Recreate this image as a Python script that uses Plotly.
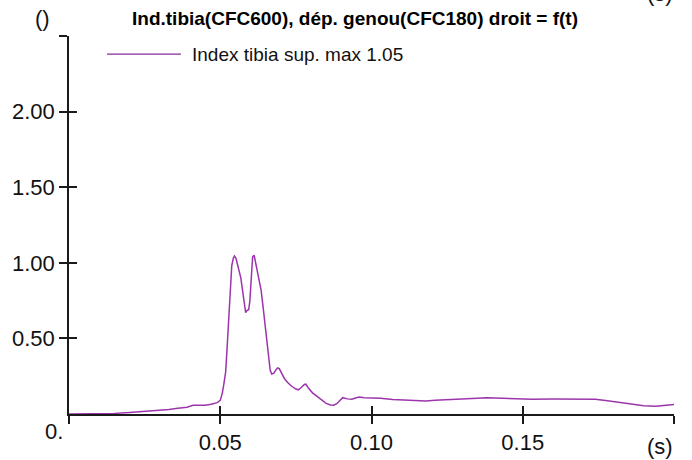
import plotly.graph_objects as go

# ---- data ----
t = [0.000, 0.010, 0.015, 0.020, 0.025, 0.030, 0.033, 0.036, 0.039, 0.041,
     0.043, 0.045, 0.047, 0.049, 0.050, 0.0507, 0.0512, 0.0518, 0.0523, 0.0528,
     0.0533, 0.0538, 0.0543, 0.0547, 0.0552, 0.0557, 0.0563, 0.0568, 0.0575, 0.0580,
     0.0584, 0.0589, 0.0594, 0.0598, 0.0602, 0.0607, 0.0612, 0.0617, 0.0622, 0.0628,
     0.0635, 0.0642, 0.0650, 0.0658, 0.0665, 0.0670, 0.0677, 0.0685, 0.0690, 0.0695,
     0.0702, 0.0712, 0.0722, 0.0735, 0.0750, 0.0758, 0.0768, 0.0778, 0.0783, 0.0792,
     0.0805, 0.0820, 0.0835, 0.0850, 0.0865, 0.0875, 0.0885, 0.0895, 0.0905, 0.0920,
     0.0935, 0.0950, 0.0960, 0.0975, 0.1000, 0.1030, 0.1070, 0.1100, 0.1130, 0.1160,
     0.1180, 0.1210, 0.1250, 0.1300, 0.1350, 0.1380, 0.1420, 0.1470, 0.1530, 0.1600,
     0.1650, 0.1700, 0.1740, 0.1780, 0.1820, 0.1860, 0.1900, 0.1940, 0.1970, 0.2000]
index_tibia = [0.000, 0.000, 0.004, 0.010, 0.016, 0.022, 0.030, 0.038, 0.045, 0.058,
               0.060, 0.058, 0.065, 0.075, 0.090, 0.140, 0.200, 0.280, 0.450, 0.650,
               0.850, 0.980, 1.030, 1.045, 1.030, 0.990, 0.960, 0.900, 0.800, 0.720,
               0.670, 0.685, 0.690, 0.750, 0.920, 1.040, 1.050, 1.000, 0.930, 0.890,
               0.820, 0.700, 0.550, 0.400, 0.290, 0.265, 0.270, 0.295, 0.305, 0.300,
               0.270, 0.235, 0.210, 0.185, 0.165, 0.160, 0.175, 0.195, 0.197, 0.170,
               0.140, 0.115, 0.090, 0.070, 0.060, 0.058, 0.068, 0.090, 0.108, 0.100,
               0.098, 0.108, 0.112, 0.108, 0.108, 0.104, 0.096, 0.094, 0.092, 0.085,
               0.086, 0.091, 0.096, 0.100, 0.104, 0.107, 0.104, 0.100, 0.098, 0.100,
               0.101, 0.100, 0.098, 0.088, 0.077, 0.066, 0.055, 0.052, 0.056, 0.063]

x_ticks = [0.0, 0.05, 0.10, 0.15, 0.20]
x_labels = ["", "0.05", "0.10", "0.15", ""]
y_ticks = [0.5, 1.0, 1.5, 2.0, 2.5]
y_labels = ["0.50", "1.00", "1.50", "2.00", ""]

title = "Ind.tibia(CFC600), dép. genou(CFC180) droit = f(t)"
legend_name = "Index tibia sup. max 1.05"

LINE = "#9c35ac"
AX = "#1a1a1a"
FONT = "Liberation Sans, Arial, sans-serif"

fig = go.Figure()
fig.add_trace(go.Scatter(x=t, y=index_tibia, mode="lines", name=legend_name,
                         line=dict(color=LINE, width=1.5), showlegend=False))
# helper (invisible) trace so the overlay axes (inner half of crossing ticks) render
fig.add_trace(go.Scatter(x=[t[0]], y=[index_tibia[0]], xaxis="x2", yaxis="y2",
                         mode="markers", marker=dict(opacity=0), showlegend=False,
                         hoverinfo="skip"))

axis_common = dict(showgrid=False, zeroline=False, automargin=False)
fig.update_layout(
    width=692, height=460,
    margin=dict(l=69, r=18, t=36, b=46, pad=0, autoexpand=False),
    paper_bgcolor="white", plot_bgcolor="white",
    font=dict(family=FONT, size=22, color="#111"),
    xaxis=dict(range=[0, 0.2], tickvals=x_ticks, ticktext=x_labels,
               ticks="outside", ticklen=8, tickwidth=1.5, tickcolor=AX,
               showline=True, linecolor=AX, linewidth=1.5,
               tickfont=dict(size=22), **axis_common),
    yaxis=dict(range=[0, 2.5], tickvals=y_ticks, ticktext=y_labels,
               ticks="outside", ticklen=8, tickwidth=1.5, tickcolor=AX,
               showline=True, linecolor=AX, linewidth=1.5,
               tickfont=dict(size=22), **axis_common),
    xaxis2=dict(range=[0, 0.2], overlaying="x", tickvals=x_ticks,
                ticks="inside", ticklen=8, tickwidth=1.5, tickcolor=AX,
                showticklabels=False, showline=False, side="bottom", **axis_common),
    yaxis2=dict(range=[0, 2.5], overlaying="y", tickvals=y_ticks,
                ticks="inside", ticklen=8, tickwidth=1.5, tickcolor=AX,
                showticklabels=False, showline=False, side="left", **axis_common),
    showlegend=False,
)

ann = []
ann.append(dict(text="<b>" + title + "</b>", xref="paper", yref="paper",
                x=0.4727, y=1.045, xanchor="center", yanchor="middle",
                showarrow=False, font=dict(size=19, family=FONT, color="#000")))
ann.append(dict(text="()", xref="paper", yref="paper", x=-0.0446, y=1.045,
                xanchor="center", yanchor="middle", showarrow=False,
                font=dict(size=22, family=FONT)))
ann.append(dict(text="(s)", xref="paper", yref="paper", x=0.977, y=1.112,
                xanchor="center", yanchor="middle", showarrow=False,
                font=dict(size=22, family=FONT)))
ann.append(dict(text="0.", xref="paper", yref="paper", x=-0.0248, y=-0.045,
                xanchor="center", yanchor="middle", showarrow=False,
                font=dict(size=22, family=FONT)))
ann.append(dict(text="(s)", xref="paper", yref="paper", x=0.977, y=-0.0873,
                xanchor="center", yanchor="middle", showarrow=False,
                font=dict(size=22, family=FONT)))
ann.append(dict(text=legend_name, xref="paper", yref="paper", x=0.2, y=0.952,
                xanchor="left", yanchor="middle", showarrow=False,
                font=dict(size=19, family=FONT)))
fig.update_layout(annotations=ann)
fig.add_shape(type="line", xref="paper", yref="paper", x0=0.0628, x1=0.185,
              y0=0.952, y1=0.952, line=dict(color="#8a2a9c", width=1.2))

fig.write_html("out.html")
